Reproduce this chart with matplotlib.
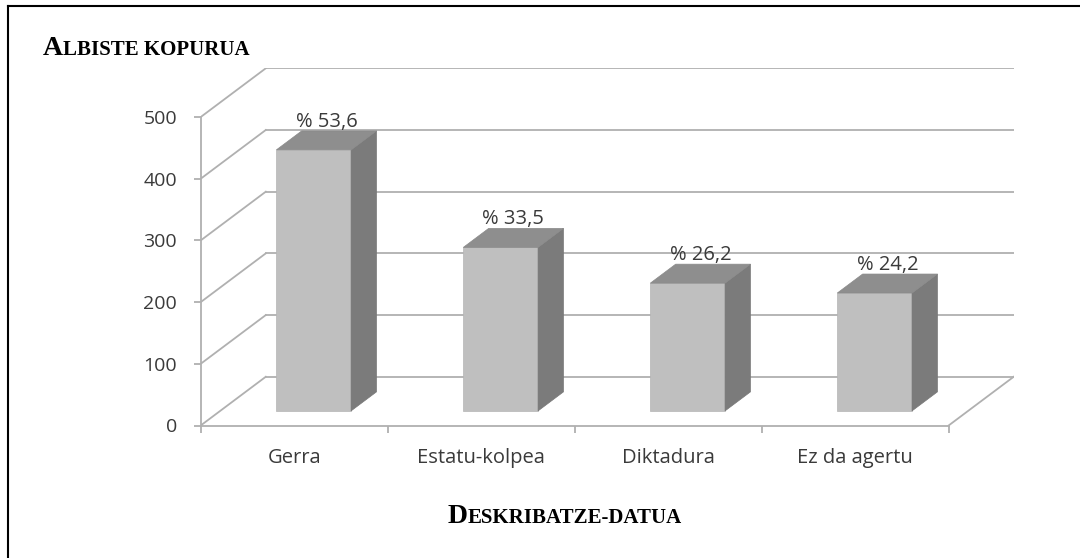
import matplotlib
matplotlib.use("Agg")
import matplotlib.pyplot as plt
from matplotlib.patches import Polygon
from matplotlib.lines import Line2D

# data
categories = ['Gerra', 'Estatu-kolpea', 'Diktadura', 'Ez da agertu']
values = [423, 265, 207, 191]
percents = [53.6, 33.5, 26.2, 24.2]
yticks = [0, 100, 200, 300, 400, 500]

# fake 3d geometry (depth offset of the floor in data units)
DX = 0.348
DY = 79.0
D0, D1 = 0.30, 0.69
BAR_W = 0.40

GRID = '#b0b0b0'
TXT = '#3a3a3a'

fig = plt.figure(figsize=(10.8, 5.58), dpi=100)
ax = fig.add_axes([200.7 / 1080, 1 - 425.5 / 558, 813 / 1080, (425.5 - 68.3) / 558])
ax.set_xlim(0, 4 + DX)
ax.set_ylim(0, 500 + DY)

# walls and floor
for v in yticks:
    ax.plot([0, DX], [v, v + DY], color=GRID, lw=1.3, zorder=1)
    ax.plot([DX, 4 + DX], [v + DY, v + DY], color=GRID, lw=1.3, zorder=1)
ax.plot([4, 4 + DX], [0, DY], color=GRID, lw=1.3, zorder=1)

# bars
for i, v in enumerate(values):
    c = i + 0.5
    x0 = c - BAR_W / 2 + D0 * DX
    x1 = c + BAR_W / 2 + D0 * DX
    ax.bar(x0, v, width=BAR_W, bottom=D0 * DY, align='edge',
           color='#bfbfbf', edgecolor='#b5b5b5', lw=0.5, zorder=3)
    sx = (D1 - D0) * DX
    sy = (D1 - D0) * DY
    side = [(x1, D0 * DY), (x1 + sx, D1 * DY), (x1 + sx, v + D1 * DY), (x1, v + D0 * DY)]
    top = [(x0, v + D0 * DY), (x1, v + D0 * DY), (x1 + sx, v + D1 * DY), (x0 + sx, v + D1 * DY)]
    ax.add_patch(Polygon(side, closed=True, fc='#7b7b7b', ec='#777777', lw=0.5, zorder=3))
    ax.add_patch(Polygon(top, closed=True, fc='#8e8e8e', ec='#8a8a8a', lw=0.5, zorder=3))
    lab = '% ' + f'{percents[i]:.1f}'.replace('.', ',')
    ax.annotate(lab, xy=((x0 + x1) / 2 + sx / 2, v + D1 * DY), xytext=(0, 3),
                textcoords='offset points', ha='center', va='baseline',
                fontsize=14.5, family='Open Sans', color=TXT, zorder=5)

# axes
for s in ['top', 'right']:
    ax.spines[s].set_visible(False)
for s in ['left', 'bottom']:
    ax.spines[s].set_color(GRID)
    ax.spines[s].set_linewidth(1.3)
ax.spines['left'].set_bounds(0, 500)
ax.spines['bottom'].set_bounds(0, 4)

ax.set_yticks(yticks)
ax.tick_params(axis='y', length=5, width=1.3, color=GRID, pad=12,
               labelsize=14, labelcolor=TXT)
for t in ax.get_yticklabels():
    t.set_family('Open Sans')

ax.set_xticks([0, 1, 2, 3, 4])
ax.set_xticklabels([])
ax.set_xticks([i + 0.5 for i in range(len(categories))], minor=True)
ax.set_xticklabels(categories, minor=True)
ax.tick_params(axis='x', which='major', length=5, width=1.3, color=GRID)
ax.tick_params(axis='x', which='minor', length=0, pad=16, labelsize=14.5, labelcolor=TXT)
for t in ax.get_xticklabels(minor=True):
    t.set_family('Open Sans')


def small_caps(x, y, text, big=20, small=15):
    # first letter big, rest as small capitals
    r = fig.canvas.get_renderer()
    t = fig.text(x / 1080, 1 - y / 558, text[0], fontsize=big, family='Liberation Serif',
                 weight='bold', va='baseline', ha='left')
    bb = t.get_window_extent(renderer=r)
    fig.text(bb.x1 / 1080, 1 - y / 558, text[1:].upper(), fontsize=small,
             family='Liberation Serif', weight='bold', va='baseline', ha='left')


small_caps(43, 55, 'ALBISTE KOPURUA')
small_caps(448, 523, 'DESKRIBATZE-DATUA')

# outer frame (cut at right and bottom)
fig.add_artist(Line2D([8 / 1080, 1], [1 - 6 / 558, 1 - 6 / 558], color='black', lw=1.5))
fig.add_artist(Line2D([8 / 1080, 8 / 1080], [0, 1 - 6 / 558], color='black', lw=1.5))

fig.savefig('out.png', dpi=100)
